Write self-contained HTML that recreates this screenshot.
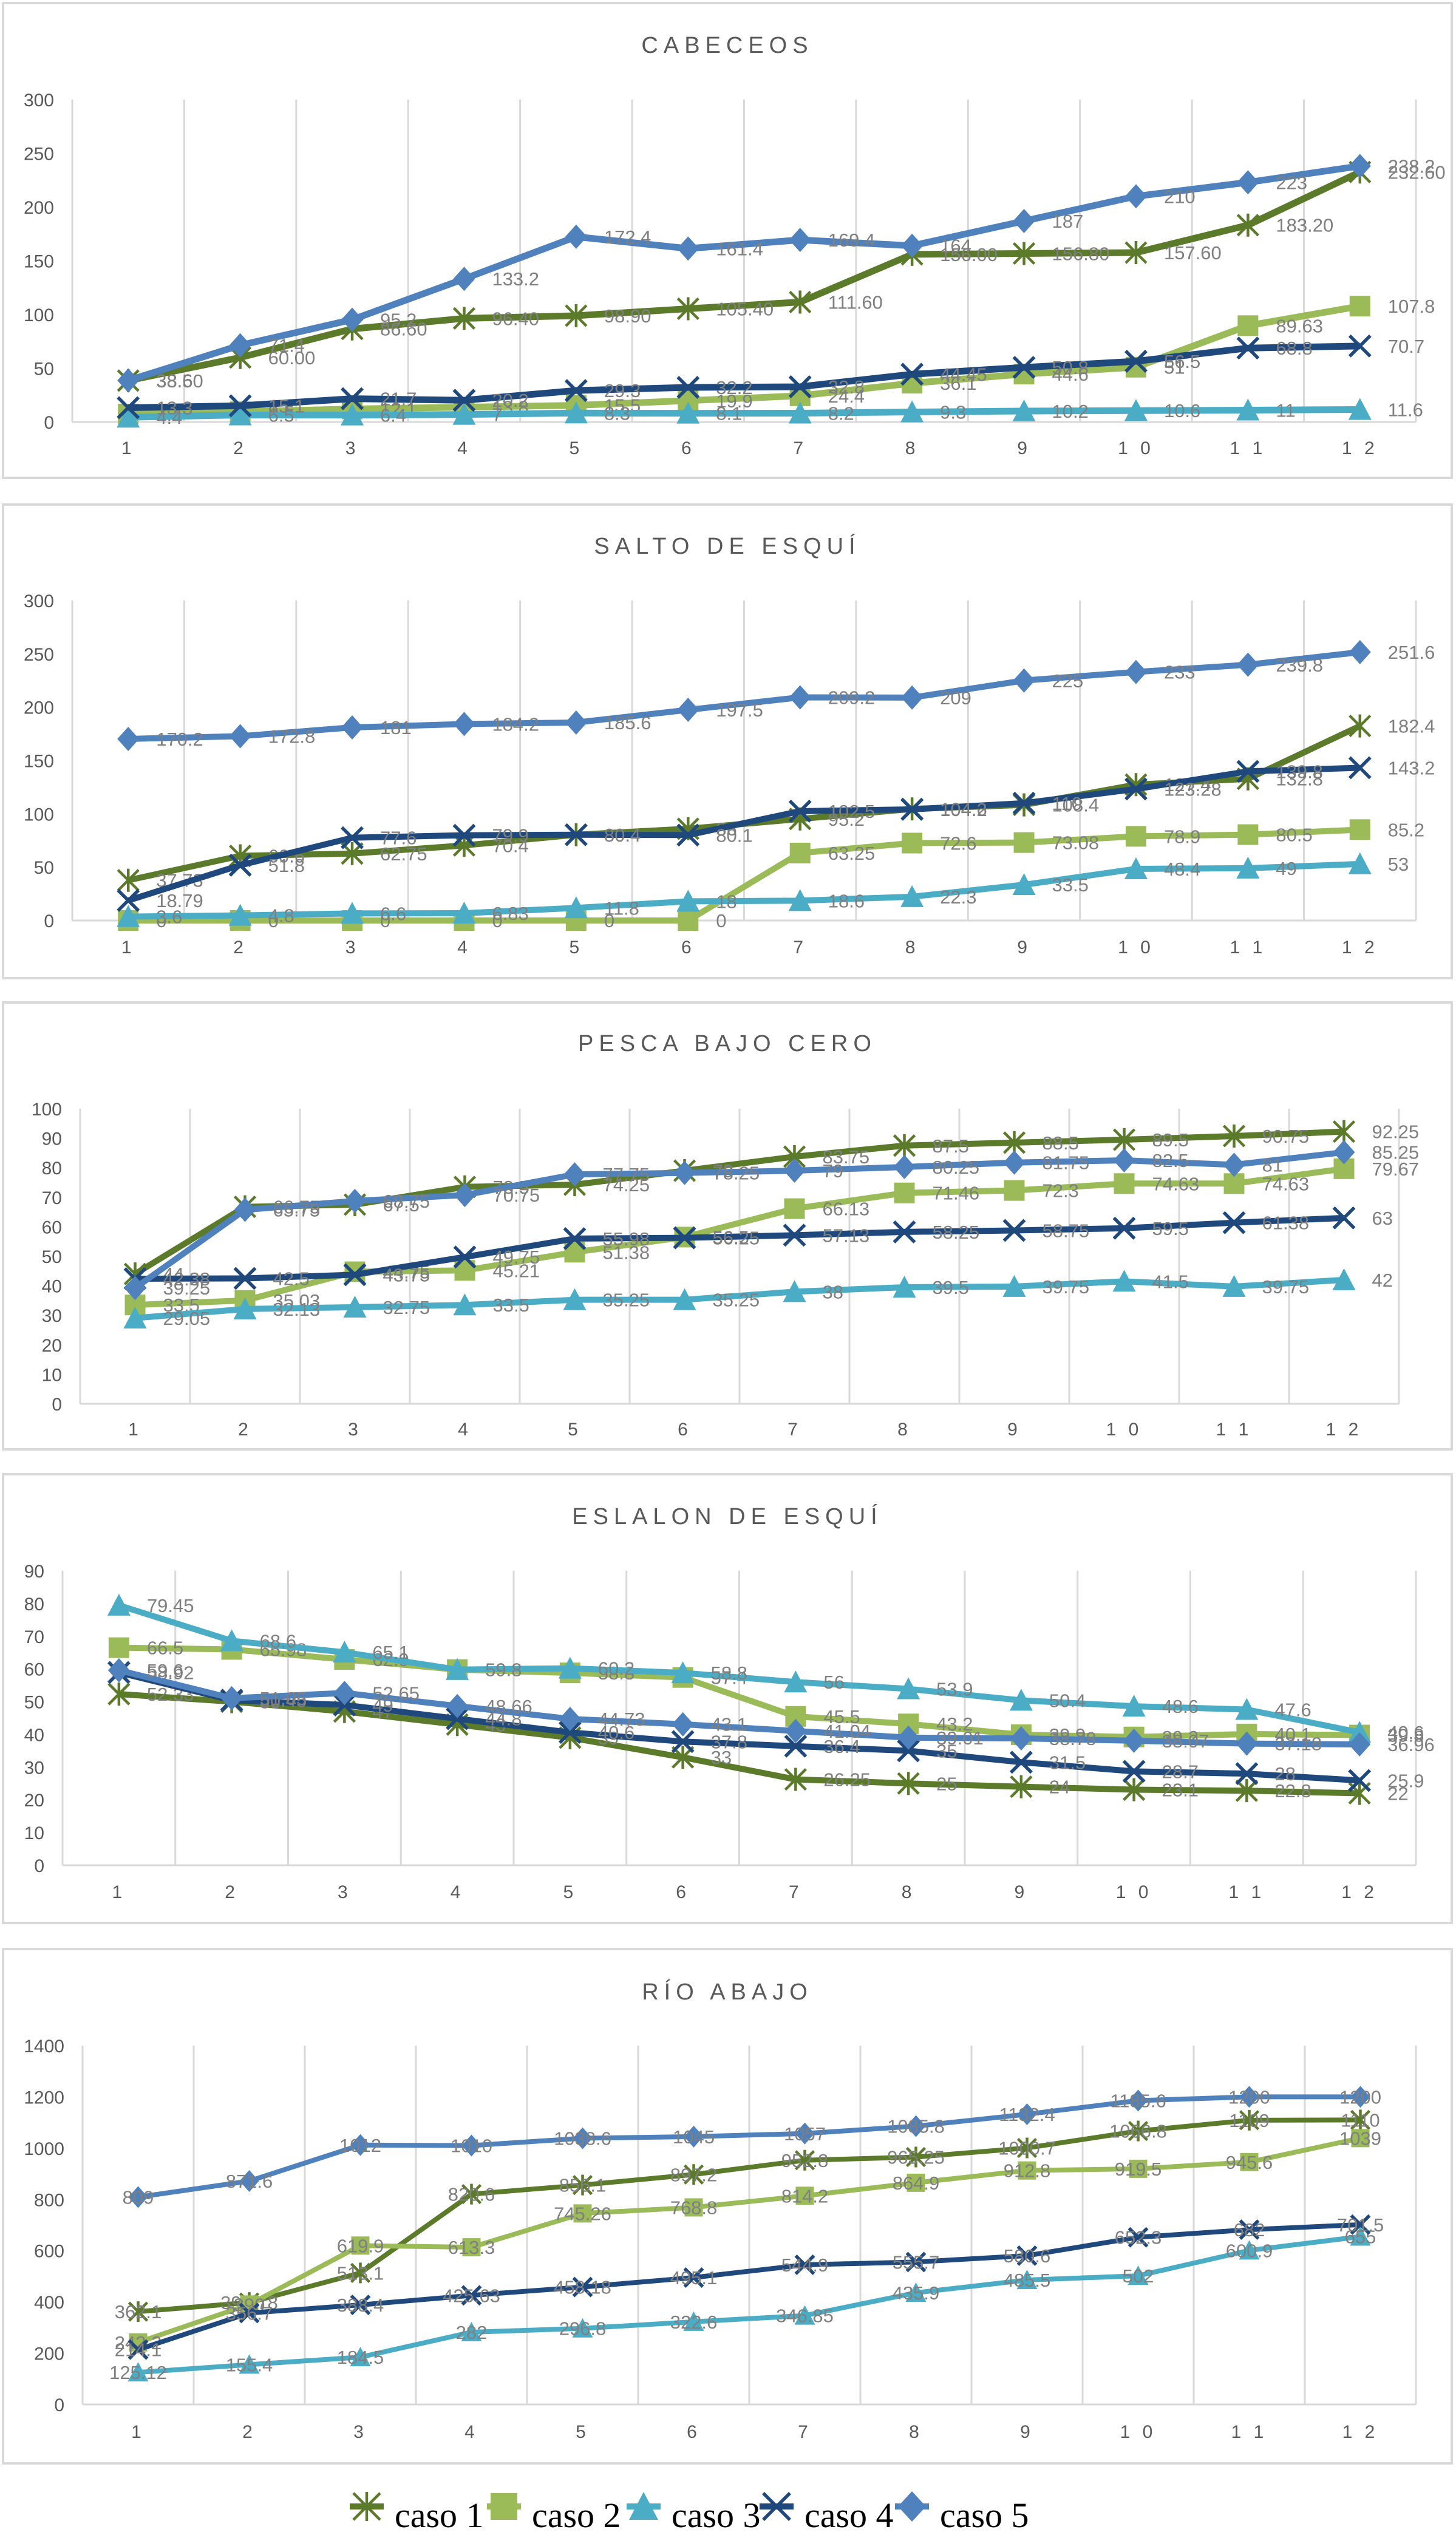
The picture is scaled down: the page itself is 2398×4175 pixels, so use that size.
<!DOCTYPE html>
<html><head><meta charset="utf-8">
<style>
html,body{margin:0;padding:0;background:#fff;}
svg{display:block;}
</style></head>
<body>
<svg id="root" width="2398" height="4175" xmlns="http://www.w3.org/2000/svg"></svg>
<script>
const categories = ["1","2","3","4","5","6","7","8","9","1 0","1 1","1 2"];
const seriesNames = ["caso 1","caso 2","caso 3","caso 4","caso 5"];

// CABECEOS
const cab1 = [38.5,60,86.6,96.4,98.9,105.4,111.6,156,156.8,157.6,183.2,232.6];
const cab2 = [7.4,9.5,12.1,13.8,15.5,19.9,24.4,36.1,44.6,51,89.63,107.8];
const cab3 = [4.4,6.5,6.4,7,8.3,8.1,8.2,9.3,10.2,10.6,11,11.6];
const cab4 = [13.3,15.1,21.7,20.2,29.3,32.2,32.8,44.45,50.8,56.5,68.8,70.7];
const cab5 = [38.6,71.4,95.2,133.2,172.4,161.4,169.4,164,187,210,223,238.2];
// SALTO DE ESQUÍ
const sal1 = [37.73,60.6,62.75,70.4,80.4,86,95.2,104.6,108.4,127.4,132.8,182.4];
const sal2 = [0,0,0,0,0,0,63.25,72.6,73.08,78.9,80.5,85.2];
const sal3 = [3.6,4.8,6.6,6.83,11.8,18,18.6,22.3,33.5,48.4,49,53];
const sal4 = [18.79,51.8,77.6,79.9,80.4,80.1,102.5,104.2,110,123.28,139.8,143.2];
const sal5 = [170.2,172.8,181,184.2,185.6,197.5,209.2,209,225,233,239.8,251.6];
// PESCA BAJO CERO
const pes1 = [44,66.75,67.5,73.5,74.25,79,83.75,87.5,88.5,89.5,90.75,92.25];
const pes2 = [33.5,35.03,44.75,45.21,51.38,56.5,66.13,71.46,72.3,74.63,74.63,79.67];
const pes3 = [29.05,32.13,32.75,33.5,35.25,35.25,38,39.5,39.75,41.5,39.75,42];
const pes4 = [42.38,42.5,43.75,49.75,55.98,56.25,57.13,58.25,58.75,59.5,61.38,63];
const pes5 = [39.25,65.75,68.75,70.75,77.75,78.25,79,80.25,81.75,82.5,81,85.25];
// ESLALON DE ESQUÍ
const esl1 = [52.33,50,47,43,39,33,26.25,25,24,23.1,22.8,22];
const esl2 = [66.5,65.98,62.9,59.8,58.8,57.4,45.5,43.2,39.9,39.2,40.1,39.8];
const esl3 = [79.45,68.6,65.1,59.8,60.2,58.8,56,53.9,50.4,48.6,47.6,40.6];
const esl4 = [58.92,50.45,49,44.8,40.6,37.8,36.4,35,31.5,28.7,28,25.9];
const esl5 = [59.6,51.05,52.65,48.66,44.73,43.1,41.04,39.01,38.78,38.07,37.18,36.96];
// RÍO ABAJO
const rio1 = [362.1,397.78,513.1,820.6,856.1,897.2,952.8,965.25,1000.7,1066.8,1109,1110];
const rio2 = [242.2,390,619.9,613.3,745.26,768.8,814.2,864.9,912.8,919.5,945.6,1039];
const rio3 = [125.12,155.4,184.5,282,296.8,322.6,346.85,435.9,485.5,502,600.9,655];
const rio4 = [214.1,356.7,388.4,425.63,458.18,495.1,544.9,555.7,580.6,652.3,682,701.5];
const rio5 = [809,871.6,1012,1010,1038.6,1045,1057,1085.8,1132.4,1185.6,1200,1200];

const yTicks300 = [0,50,100,150,200,250,300];
const yTicks100 = [0,10,20,30,40,50,60,70,80,90,100];
const yTicks90 = [0,10,20,30,40,50,60,70,80,90];
const yTicks1400 = [0,200,400,600,800,1000,1200,1400];

const COLORS = ["#5b7a2a","#9bbb59","#4bacc6","#1f497d","#4f81bd"];
const NS = "http://www.w3.org/2000/svg";
const root = document.getElementById("root");
function mk(tag, attrs, parent){
  const e = document.createElementNS(NS, tag);
  for (const k in attrs) e.setAttribute(k, attrs[k]);
  (parent||root).appendChild(e);
  return e;
}

const charts = [
  {title:"CABECEOS", key:"cabeceos", data:[cab1,cab2,cab3,cab4,cab5], dec:[2,-1,-1,-1,-1], ticks:yTicks300,
   pTop:5,pBot:787, tY:74, top:164, bot:695, left:119, right:2332, xl:737, lw:11, ms:34, center:false},
  {title:"SALTO DE ESQUÍ", key:"salto", data:[sal1,sal2,sal3,sal4,sal5], dec:[-1,-1,-1,-1,-1], ticks:yTicks300,
   pTop:831,pBot:1611, tY:899, top:989, bot:1516, left:119, right:2332, xl:1559, lw:10, ms:34, center:false},
  {title:"PESCA BAJO CERO", key:"pesca", data:[pes1,pes2,pes3,pes4,pes5], dec:[-1,-1,-1,-1,-1], ticks:yTicks100,
   pTop:1651,pBot:2387, tY:1718, top:1826, bot:2312, left:132, right:2304, xl:2353, lw:10, ms:34, center:false},
  {title:"ESLALON DE ESQUÍ", key:"eslalon", data:[esl1,esl2,esl3,esl4,esl5], dec:[-1,-1,-1,-1,-1], ticks:yTicks90,
   pTop:2428,pBot:3167, tY:2497, top:2587, bot:3072, left:103, right:2332, xl:3115, lw:10, ms:34, center:false},
  {title:"RÍO ABAJO", key:"rio", data:[rio1,rio2,rio3,rio4,rio5], dec:[-1,-1,-1,-1,-1], ticks:yTicks1400,
   pTop:3210,pBot:4057, tY:3280, top:3369, bot:3960, left:136, right:2332, xl:4004, lw:8, ms:30, center:true}
];

function marker(i, x, y, s, parent, name){
  const c = COLORS[i]; let e;
  const h = s/2;
  if (i===0){
    e = mk("g",{},parent);
    mk("path",{d:`M${x-h} ${y-h}L${x+h} ${y+h}M${x-h} ${y+h}L${x+h} ${y-h}M${x} ${y-h-2}L${x} ${y+h+2}`,stroke:c,"stroke-width":4.5,fill:"none"},e);
  } else if (i===1){
    e = mk("rect",{x:x-h,y:y-h,width:s,height:s,fill:c},parent);
  } else if (i===2){
    e = mk("path",{d:`M${x} ${y-h-2}L${x+h+2} ${y+h}L${x-h-2} ${y+h}Z`,fill:c},parent);
  } else if (i===3){
    e = mk("path",{d:`M${x-h} ${y-h}L${x+h} ${y+h}M${x-h} ${y+h}L${x+h} ${y-h}`,stroke:c,"stroke-width":5.5,fill:"none"},parent);
  } else {
    e = mk("path",{d:`M${x} ${y-h-3}L${x+h+1} ${y}L${x} ${y+h+3}L${x-h-1} ${y}Z`,fill:c},parent);
  }
  
  
  return e;
}

charts.forEach(ch => {
  const g = mk("g",{});
  
  
  const panel = mk("rect",{x:5,y:ch.pTop,width:2386,height:ch.pBot-ch.pTop,fill:"#fff",stroke:"#d9d9d9","stroke-width":4},g);
  
  
  const t = mk("text",{x:1198,y:ch.tY+13,"text-anchor":"middle","font-family":"Liberation Sans, sans-serif","font-size":38,fill:"#595959","letter-spacing":9},g);
  t.textContent = ch.title;
  
  
  const n = categories.length;
  const bw = (ch.right-ch.left)/n;
  const maxV = ch.ticks[ch.ticks.length-1];
  const X = i => ch.left + bw*(i+0.5);
  const Y = v => ch.bot - (v/maxV)*(ch.bot-ch.top);
  for (let i=0;i<=n;i++){
    const gl = mk("line",{x1:ch.left+bw*i,x2:ch.left+bw*i,y1:ch.top,y2:ch.bot,stroke:"#d9d9d9","stroke-width":3},g);
    
    
  }
  const ax = mk("line",{x1:ch.left,x2:ch.right,y1:ch.bot,y2:ch.bot,stroke:"#d9d9d9","stroke-width":3},g);
  
  
  ch.ticks.forEach(v=>{
    const tt = mk("text",{x:ch.left-30,y:Y(v)+11,"text-anchor":"end","font-family":"Liberation Sans, sans-serif","font-size":30,fill:"#595959"},g);
    tt.textContent = String(v);
    
    
  });
  categories.forEach((c,i)=>{
    const tt = mk("text",{x:X(i),y:ch.xl+11,"text-anchor":"middle","font-family":"Liberation Sans, sans-serif","font-size":30,fill:"#595959","letter-spacing":6},g);
    tt.textContent = c;
    
    
  });
  ch.data.forEach((arr,si)=>{
    const sg = mk("g",{},g);
    
    
    const d = arr.map((v,i)=>(i?"L":"M")+X(i)+" "+Y(v)).join("");
    const ln = mk("path",{d:d,stroke:COLORS[si],"stroke-width":ch.lw,fill:"none","stroke-linejoin":"round"},sg);
    
    
    arr.forEach((v,i)=>{
      marker(si, X(i), Y(v), ch.ms, sg, 'point-marker');
      const lab = ch.dec[si]>=0 ? v.toFixed(ch.dec[si]) : String(v);
      const tx = ch.center ? X(i) : X(i)+46;
      const lt = mk("text",{x:tx,y:Y(v)+11,"text-anchor":ch.center?"middle":"start","font-family":"Liberation Sans, sans-serif","font-size":31,fill:"#7f7f7f"},sg);
      lt.textContent = lab;
      
      
    });
  });
});

// legend
const lg = mk("g",{});


const legX = [604, 830, 1060, 1279, 1502];
seriesNames.forEach((nm,i)=>{
  const eg = mk("g",{},lg);
  
  
  const cy = 4128;
  mk("line",{x1:legX[i]-28,x2:legX[i]+28,y1:cy,y2:cy,stroke:COLORS[i],"stroke-width":10},eg);
  marker(i, legX[i], cy, 44, eg, 'legend-marker');
  const tt = mk("text",{x:legX[i]+46,y:4162,"font-family":"Liberation Serif, serif","font-size":58,fill:"#000"},eg);
  tt.textContent = nm;
  
  
});
</script>
</body></html>
